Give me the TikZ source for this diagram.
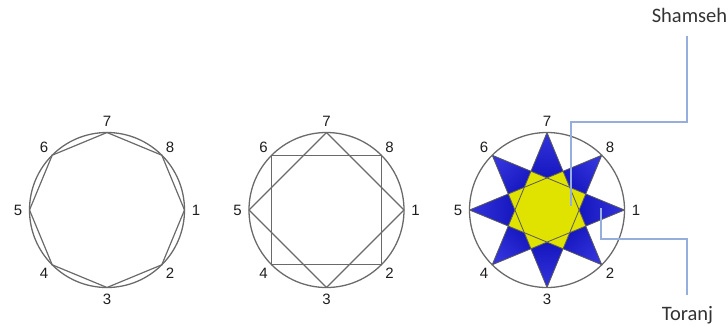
\documentclass[tikz,border=0pt]{standalone}
\usepackage{fontspec}
\setmainfont{Liberation Sans}
\newfontfamily\calib{Carlito}
\definecolor{gline}{HTML}{6A6A6A}
\definecolor{numc}{HTML}{1E1E1E}
\definecolor{lblc}{HTML}{333333}
\definecolor{callc}{HTML}{95AEDC}
\definecolor{yel}{HTML}{E0E200}
\definecolor{bluedark}{HTML}{1616BE}
\definecolor{bluelight}{HTML}{3434DC}
\begin{document}
\begin{tikzpicture}[x=1pt,y=-1pt,
  ring/.style={draw=gline, line width=1.3pt},
  poly/.style={draw=gline, line width=1.2pt, line join=round},
  chord/.style={draw=gline!85!black, line width=0.8pt},
  num/.style={text=numc, font=\fontsize{15}{17}\selectfont, inner sep=0pt},
  lbl/.style={text=lblc, font=\calib\fontsize{20.5}{23}\selectfont, inner sep=0pt},
  callout/.style={draw=callc, line width=1.1pt},
  kite/.style={left color=bluedark, right color=bluelight},
  yfill/.style={fill=yel}]
\useasboundingbox (0,0) rectangle (728,325);

% ---------- circle 1 : octagon ----------
\begin{scope}[shift={(107,210)}, y=1pt]
  \draw[ring] (0,0) circle (77.5);
  \foreach \k in {1,...,8}{
    \coordinate (pa\k) at ({-(\k-1)*45}:77.5);
    \node[num] (la\k) at ({-(\k-1)*45}:89) {\k};
  }
  \draw[poly] (pa1) -- (pa2) -- (pa3) -- (pa4) -- (pa5) -- (pa6) -- (pa7) -- (pa8) -- cycle;
\end{scope}

% ---------- circle 2 : two squares ----------
\begin{scope}[shift={(326.5,210)}, y=1pt]
  \draw[ring] (0,0) circle (77.5);
  \foreach \k in {1,...,8}{
    \coordinate (pb\k) at ({-(\k-1)*45}:77.5);
    \node[num] (lb\k) at ({-(\k-1)*45}:89) {\k};
  }
  \draw[poly] (pb1) -- (pb3) -- (pb5) -- (pb7) -- cycle;
  \draw[poly] (pb2) -- (pb4) -- (pb6) -- (pb8) -- cycle;
\end{scope}

% ---------- circle 3 : star ----------
\begin{scope}[shift={(547,210)}, y=1pt]
  \foreach \a in {0,45,...,315}{
    \shade[kite, shading angle=\a+90] (\a:77.5) -- (\a+22.5:41.94) -- (\a:32.1) -- (\a-22.5:41.94) -- cycle;
  }
  \fill[yfill] (0:32.1) \foreach \a in {0,45,...,315}{ -- (\a+22.5:41.94) -- (\a+45:32.1)} -- cycle;
  \foreach \k in {1,...,8}{
    \coordinate (pc\k) at ({-(\k-1)*45}:77.5);
    \node[num] (lc\k) at ({-(\k-1)*45}:89) {\k};
  }
  \foreach \k/\m in {1/4,2/5,3/6,4/7,5/8,6/1,7/2,8/3}{
    \draw[chord] (pc\k) -- (pc\m);
  }
  \draw[ring] (0,0) circle (77.5);
\end{scope}

% ---------- callouts ----------
\node[lbl] (sham) at (689.5,15) {Shamseh};
\node[lbl] (tor) at (687.5,315) {Toranj};
\coordinate (s0) at (687,36);
\coordinate (sp) at (571,206);
\coordinate (t0) at (687,295);
\coordinate (tp) at (601,208);
\draw[callout] (s0) -- ++(0,86) -| (sp);
\draw[callout] (t0) -- ++(0,-56) -| (tp);
\end{tikzpicture}
\end{document}
